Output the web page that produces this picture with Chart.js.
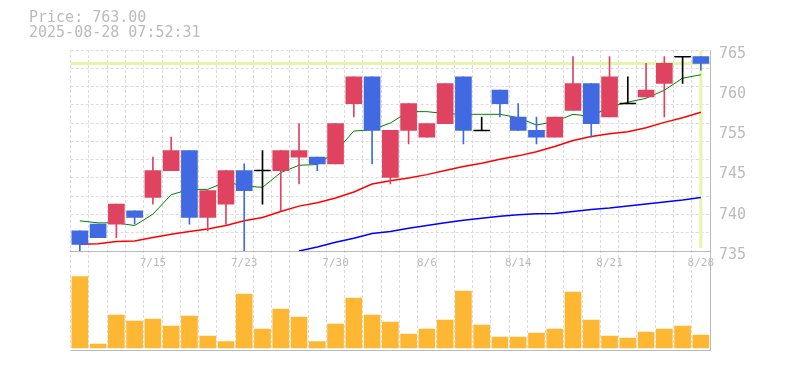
<!DOCTYPE html>
<html>
<head>
<meta charset="utf-8">
<script src="https://cdn.jsdelivr.net/npm/chart.js@4"></script>
<style>
  body { margin: 0; background: #fff; }
  #wrap { width: 785px; height: 370px; }
</style>
</head>
<body>
<div id="wrap"><canvas id="chart"></canvas></div>
<script>
/* daily data */
const dates = ['7/9','7/10','7/11','7/14','7/15','7/16','7/17','7/18','7/22','7/23',
               '7/24','7/25','7/28','7/29','7/30','7/31','8/1','8/4','8/5','8/6',
               '8/7','8/8','8/12','8/13','8/14','8/15','8/18','8/19','8/20','8/21',
               '8/22','8/25','8/26','8/27','8/28'];
const dateTicks = ['7/15','7/23','7/30','8/6','8/14','8/21','8/28'];

const openP  = [738,739,739,741,743,747,750,740,742,747, 747,747,749,749,748,757,761,746,753,752, 754,761,753,759,755,753,752,756,760,755, 757,758,760,764,764];
const highP  = [738,739,742,741,749,752,750,744,747,748, 750,750,754,749,754,761,761,753,757,754, 760,761,755,759,757,755,755,764,760,764, 761,763,764,764,764];
const lowP   = [735,737,737,739,742,747,739,738,739,735, 742,741,745,747,748,755,748,745,751,752, 754,751,753,755,753,751,752,756,752,755, 757,758,755,760,762];
const closeP = [736,737,742,740,747,750,740,744,747,744, 747,750,750,748,754,761,753,753,757,754, 760,753,753,757,753,752,755,760,754,761, 757,759,763,764,763];

/* moving averages (short / 25 day / 75 day) */
const maShort = [739.5,739.2,739.2,738.8,740.5,743.4,744.2,744.2,745.3,744.7, 744.5,746.7,747.8,747.9,749.8,752.9,753.1,754.1,755.8,755.8, 755.5,755.4,755.4,755.4,754.9,753.8,754.3,755.4,755.1,756.5, 757.2,757.8,759.0,760.8,761.3];
const ma25    = [736.0,736.1,736.4,736.5,737.0,737.5,737.9,738.3,738.8,739.5, 740.0,740.9,741.7,742.2,742.9,743.8,745.0,745.5,745.9,746.4, 747.0,747.6,748.1,748.7,749.2,749.8,750.6,751.5,752.1,752.5, 752.8,753.4,754.2,754.9,755.7];
const ma75    = [null,null,null,null,null,null,null,null,null,null, null,null,735.0,735.6,736.3,736.9,737.6,737.9,738.4,738.8, 739.2,739.6,739.9,740.2,740.4,740.55,740.6,740.9,741.2,741.4, 741.7,742.0,742.3,742.6,743.0];

/* volume (shares) */
const volume = [71300,4000,33000,27000,29000,22000,32000,12000,6300,54000, 19000,39000,31000,6300,24000,50000,33000,26000,14000,19000, 28000,57000,23000,11000,11000,15000,19000,56000,28000,12000, 10000,16000,19000,22000,13000];

const lastPrice = 763.00;
const stamp = '2025-08-28 07:52:31';

/* axis values */
const priceMin = 735, priceMax = 765;
const priceTicks = [735, 741, 747, 753, 759, 765];
const priceTickLabels = ['735', '740', '745', '755', '760', '765'];
const volMin = -2000, volMax = 97000;

const UP = '#e0435f', DOWN = '#4169e1', FLAT = '#000000';
const GRID = '#dcdcdc', FRAME = '#bbbbbb', TXT = '#bbbbbb';
const MONO = "'DejaVu Sans Mono', monospace";
const gridRows = 11;

const candleColour = openP.map((o, i) => closeP[i] > o ? UP : (closeP[i] < o ? DOWN : FLAT));
const bodies = openP.map((o, i) => [o, closeP[i]]);
const wicks = lowP.map((l, i) => [l, highP[i]]);
const doji = openP.map((o, i) => o === closeP[i] ? o : null);

/* current price line + last day line */
const markLines = {
    id: 'markLines',
    beforeDatasetsDraw(chart) {
        const {ctx, chartArea, scales} = chart;
        const y = scales.y.getPixelForValue(lastPrice);
        const x = scales.x.getPixelForValue(dates.length - 1);
        ctx.save();
        ctx.strokeStyle = '#e5f5aa';
        ctx.lineWidth = 3;
        ctx.beginPath();
        ctx.moveTo(chartArea.left, y); ctx.lineTo(chartArea.right, y);
        ctx.moveTo(x, chartArea.top + 1); ctx.lineTo(x, scales.y.bottom - 3);
        ctx.stroke();
        ctx.restore();
    }
};

new Chart(document.getElementById('chart'), {
    type: 'bar',
    data: {
        labels: dates,
        datasets: [
            { type: 'line', label: 'doji', data: doji, yAxisID: 'y', xAxisID: 'x', order: 0,
              showLine: false, pointStyle: 'line', pointRadius: 8, pointBorderColor: FLAT,
              pointBorderWidth: 1.5, pointHoverRadius: 8 },
            { label: 'body', data: bodies, yAxisID: 'y', xAxisID: 'x', order: 1, grouped: false,
              backgroundColor: candleColour, barThickness: 16, borderWidth: 0 },
            { label: 'wick', data: wicks, yAxisID: 'y', xAxisID: 'x', order: 2, grouped: false,
              backgroundColor: candleColour, barThickness: 1, borderWidth: 0 },
            { type: 'line', label: 'MA short', data: maShort, yAxisID: 'y', xAxisID: 'x', order: 3,
              borderColor: '#008000', borderWidth: 1, pointRadius: 0, tension: 0 },
            { type: 'line', label: 'MA25', data: ma25, yAxisID: 'y', xAxisID: 'x', order: 4,
              borderColor: '#ff0000', borderWidth: 1.5, pointRadius: 0, tension: 0 },
            { type: 'line', label: 'MA75', data: ma75, yAxisID: 'y', xAxisID: 'x', order: 5,
              borderColor: '#0000ff', borderWidth: 1.5, pointRadius: 0, tension: 0 },
            { label: 'volume', data: volume, yAxisID: 'yv', xAxisID: 'x', order: 6, grouped: false,
              backgroundColor: '#fdb733', barThickness: 16, borderWidth: 0 }
        ]
    },
    options: {
        responsive: true,
        maintainAspectRatio: false,
        animation: false,
        layout: { padding: { left: 29, right: 0, top: 0, bottom: 20 } },
        plugins: {
            legend: { display: false },
            tooltip: { enabled: false },
            title: {
                display: true,
                align: 'start',
                text: ['Price: ' + lastPrice.toFixed(2), stamp],
                color: TXT,
                font: { family: MONO, size: 15, weight: 'normal', lineHeight: 1 },
                padding: { top: 11, bottom: 9 }
            }
        },
        scales: {
            x: {
                type: 'category',
                offset: true,
                position: { yv: volMax },
                grid: { offset: true, color: GRID, drawTicks: false },
                border: { color: FRAME, dash: [3, 2] },
                ticks: {
                    autoSkip: false, maxRotation: 0, padding: 6, color: TXT,
                    font: { family: MONO, size: 11 },
                    callback: (v, i) => dateTicks.includes(dates[i]) ? dates[i] : ''
                }
            },
            y: {
                type: 'linear', position: 'right', stack: 'panes', stackWeight: 201,
                min: priceMin, max: priceMax,
                afterBuildTicks: s => {
                    const t = [];
                    for (let k = 1; k < gridRows; k++) t.push({ value: priceMin + k * (priceMax - priceMin) / gridRows, g: true });
                    priceTicks.forEach((v, j) => t.push({ value: v, lab: priceTickLabels[j], g: v === priceMax }));
                    t.sort((a, b) => a.value - b.value);
                    s.ticks = t;
                },
                afterFit: s => { s.width = 75; },
                grid: { color: c => (c.tick && c.tick.g) ? GRID : 'rgba(0,0,0,0)', drawTicks: false },
                border: { color: FRAME, dash: [3, 2] },
                ticks: {
                    autoSkip: false, padding: 9, labelOffset: 4, color: TXT,
                    font: { family: MONO, size: 15 },
                    callback: (v, i, t) => t[i].lab || ''
                }
            },
            yv: {
                type: 'linear', position: 'right', stack: 'panes', stackWeight: 99,
                min: volMin, max: volMax,
                afterBuildTicks: s => { s.ticks = [{ value: volMin }]; },
                afterFit: s => { s.width = 75; },
                grid: { color: FRAME, drawTicks: false },
                border: { color: FRAME },
                ticks: { display: false }
            },
            yl: {
                type: 'linear', position: 'left',
                grid: { display: false, drawTicks: false },
                border: { display: false },
                ticks: { display: false },
                afterFit: s => { s.width = 41.7; }
            }
        }
    },
    plugins: [markLines]
});
</script>
</body>
</html>
